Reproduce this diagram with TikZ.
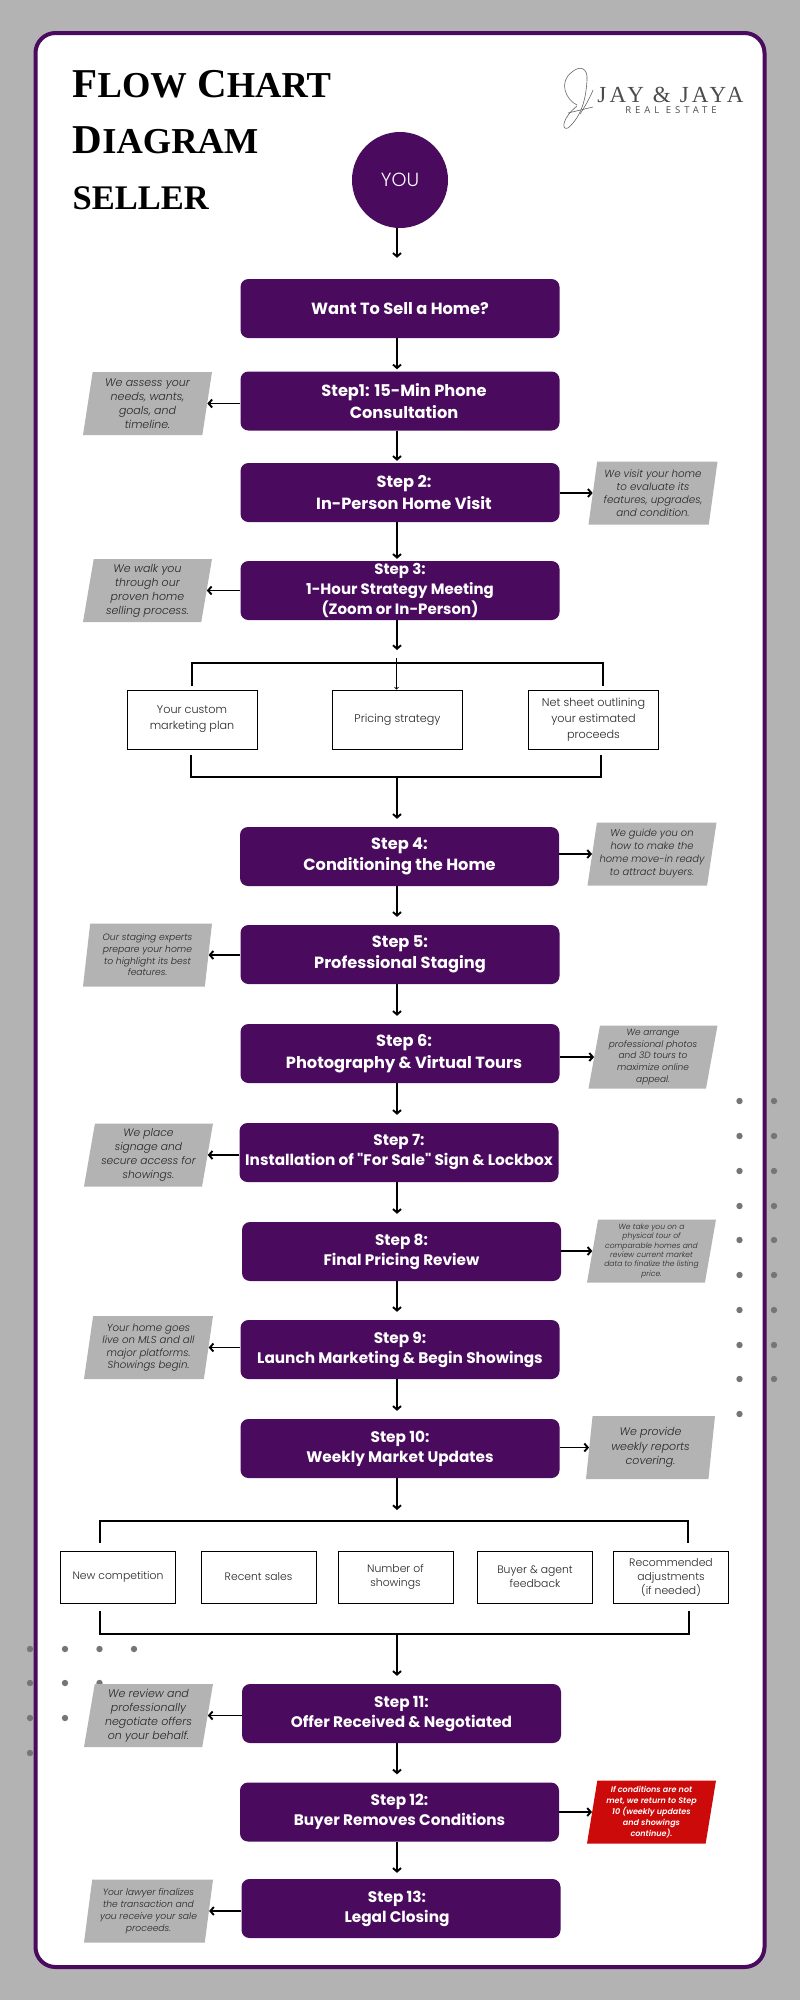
\documentclass[tikz,border=0pt]{standalone}
\usepackage{xcolor}
\usepackage{fontspec}
\usetikzlibrary{shapes.geometric,arrows.meta,positioning}

\newfontfamily\stepfont{Poppins}[UprightFont=* Bold]
\newfontfamily\lightfont{Poppins}[UprightFont=* Light,ItalicFont=* Light Italic]
\newfontfamily\notefont{Poppins}[UprightFont=* SemiBold Italic]
\newfontfamily\titlefont{Liberation Serif}[UprightFont=* Bold]
\newfontfamily\logofont{Liberation Serif}[LetterSpace=14]
\newfontfamily\tagfont{Open Sans}[LetterSpace=42]

\definecolor{plum}{HTML}{4A0A5E}
\definecolor{ash}{HTML}{B3B3B3}
\definecolor{alert}{HTML}{CC0A0A}
\definecolor{spot}{HTML}{757575}

\begin{document}
\begin{tikzpicture}[x=1pt,y=-1pt,
		arrow/.style = {line width=1.9pt,-{Straight Barb[length=3.5pt,width=8pt]}},
		far/.style = {shorten >=8pt},
		near/.style = {shorten >=2pt},
		off/.style = {shorten >=6pt}]
		\tikzset{stepbox/.style={rectangle,fill=plum,rounded corners=8pt,minimum width=319pt,minimum height=59pt,inner sep=0pt,align=center,text=white,font=\stepfont\fontsize{16.2}{21.5}\selectfont}}
		\tikzset{stepsmall/.style={stepbox,font=\stepfont\fontsize{15.3}{20}\selectfont}}
		\tikzset{note/.style={trapezium,trapezium left angle=72,trapezium right angle=108,trapezium stretches body,fill=ash,minimum width=129pt,minimum height=63pt,inner xsep=-30pt,inner ysep=-10pt,align=center,text=black!85,font=\lightfont\itshape\fontsize{11}{14}\selectfont}}
		\tikzset{whitebox/.style={rectangle,draw=black,line width=0.9pt,fill=white,inner sep=0pt,align=center,text=black!85,font=\lightfont\fontsize{11.2}{16}\selectfont}}
		\tikzset{bracket/.style={line width=2pt}}

		\useasboundingbox (0,0) rectangle (800,2000);
		\fill[ash] (0,0) rectangle (800,2000);
		\draw[plum,line width=4pt,fill=white,rounded corners=20pt] (35.5,33) rectangle (764.5,1967);

		% Dots
		\fill[spot] (739.5,1101) circle (3.2) (739.5,1136) circle (3.2) (739.5,1171) circle (3.2) (739.5,1206) circle (3.2) (739.5,1240) circle (3.2) (739.5,1275) circle (3.2) (739.5,1310) circle (3.2) (739.5,1345) circle (3.2) (739.5,1379) circle (3.2) (739.5,1414) circle (3.2);
		\fill[spot] (774,1101) circle (3.2) (774,1136) circle (3.2) (774,1171) circle (3.2) (774,1206) circle (3.2) (774,1240) circle (3.2) (774,1275) circle (3.2) (774,1310) circle (3.2) (774,1345) circle (3.2) (774,1379) circle (3.2);
		\fill[spot] (30,1649) circle (3.2) (65,1649) circle (3.2) (99.5,1649) circle (3.2) (134,1649) circle (3.2) (30,1683) circle (3.2) (65,1683) circle (3.2) (99.5,1683) circle (3.2) (30,1718) circle (3.2) (65,1718) circle (3.2) (30,1753) circle (3.2);

		% Title
		\node[anchor=north west,inner sep=0pt,align=left,font=\titlefont\fontsize{41}{56}\selectfont] (title) at (72.5,70) {F{\fontsize{36.5}{56}\selectfont LOW} C{\fontsize{36.5}{56}\selectfont HART}\\D{\fontsize{36.5}{56}\selectfont IAGRAM}\\{\fontsize{34.5}{56}\selectfont SELLER}};

		% Logo
		\draw[black!60,line width=0.6pt] (577,105) .. controls (566,100) and (558,82) .. (572,72) .. controls (580,65) and (588,68) .. (587,80) .. controls (586,98) and (582,116) .. (568,128) .. controls (561,131) and (562,118) .. (577,106);
		\draw[black!60,line width=0.6pt] (568,113) -- (593,107);
		\draw[black!60,line width=0.6pt] (593,90) .. controls (590,98) and (584,108) .. (580,114);
		\node[inner sep=0pt,text=black!70,font=\logofont\fontsize{23}{23}\selectfont] (logoname) at (670.5,95) {JAY \& JAYA};
		\node[inner sep=0pt,text=black!70,font=\tagfont\fontsize{9.5}{10}\selectfont] (logotag) at (671,110.5) {REAL ESTATE};

		% Start
		\node[circle,fill=plum,minimum size=96pt,inner sep=0pt,text=white,font=\lightfont\fontsize{19}{19}\selectfont] (you) at (400,180) {YOU};

		% Steps
		\node[stepbox] (want) at (400,308.5) {\raisebox{-3pt}{Want To Sell a Home?}};
		\node[stepbox] (step1) at (400,401) {\hspace*{8pt}Step1: 15-Min Phone\\\hspace*{8pt}Consultation};
		\node[stepbox] (step2) at (400,492.5) {\hspace*{8pt}Step 2:\\\hspace*{8pt}In-Person Home Visit};
		\node[stepbox,font=\stepfont\fontsize{15}{20}\selectfont] (step3) at (400,590.5) {Step 3:\\1-Hour Strategy Meeting\\(Zoom or In-Person)};
		\node[stepbox] (step4) at (399.5,856.5) {Step 4:\\Conditioning the Home};
		\node[stepbox] (step5) at (400,954.5) {Step 5:\\Professional Staging};
		\node[stepbox] (step6) at (400,1053.5) {\hspace*{8pt}Step 6:\\\hspace*{8pt}Photography \& Virtual Tours};
		\node[stepsmall] (step7) at (399,1152.5) {Step 7:\\Installation of "For Sale" Sign \& Lockbox};
		\node[stepsmall] (step8) at (401.5,1251.5) {Step 8:\\Final Pricing Review};
		\node[stepsmall] (step9) at (400,1349.5) {Step 9:\\Launch Marketing \& Begin Showings};
		\node[stepsmall] (step10) at (400,1448.5) {Step 10:\\Weekly Market Updates};
		\node[stepsmall] (step11) at (401.5,1713.5) {Step 11:\\Offer Received \& Negotiated};
		\node[stepsmall] (step12) at (399.5,1812) {Step 12:\\Buyer Removes Conditions};
		\node[stepsmall] (step13) at (401,1908.5) {\hspace*{-8pt}Step 13:\\\hspace*{-8pt}Legal Closing};

		% Notes
		\node[note] (note1) at (147.5,403.5) {We assess your\\needs, wants,\\goals, and\\timeline.};
		\node[note,font=\lightfont\itshape\fontsize{10.3}{13}\selectfont] (note2) at (653,493) {We visit your home\\to evaluate its\\features, upgrades,\\and condition.};
		\node[note] (note3) at (147.5,590.5) {We walk you\\through our\\proven home\\selling process.};
		\node[note,font=\lightfont\itshape\fontsize{9.9}{13}\selectfont] (note4) at (652,854) {We guide you on\\how to make the\\home move-in ready\\to attract buyers.};
		\node[note,font=\lightfont\itshape\fontsize{9.2}{11.7}\selectfont] (note5) at (147.5,955) {Our staging experts\\prepare your home\\to highlight its best\\features.};
		\node[note,font=\lightfont\itshape\fontsize{9}{11.7}\selectfont] (note6) at (653,1057) {We arrange\\professional photos\\and 3D tours to\\maximize online\\appeal.};
		\node[note,font=\lightfont\itshape\fontsize{10.7}{14.3}\selectfont] (note7) at (148.5,1155) {We place\\signage and\\secure access for\\showings.};
		\node[note,font=\lightfont\itshape\fontsize{7.6}{9.3}\selectfont] (note8) at (651.5,1251) {We take you on a\\physical tour of\\comparable homes and\\review current market\\data to finalize the listing\\price.};
		\node[note,font=\lightfont\itshape\fontsize{10.2}{12.6}\selectfont] (note9) at (148.5,1347.5) {Your home goes\\live on MLS and all\\major platforms.\\Showings begin.};
		\node[note,font=\lightfont\itshape\fontsize{11}{14.5}\selectfont] (note10) at (650.5,1447.5) {We provide\\weekly reports\\covering.};
		\node[note] (note11) at (148.5,1715.5) {We review and\\professionally\\negotiate offers\\on your behalf.};
		\node[note,fill=alert,text=white,font=\notefont\fontsize{8}{11}\selectfont] (note12) at (651.5,1812) {If conditions are not\\met, we return to Step\\10 (weekly updates\\and showings\\continue).};
		\node[note,font=\lightfont\itshape\fontsize{9.2}{12}\selectfont] (note13) at (148.5,1911) {Your lawyer finalizes\\the transaction and\\you receive your sale\\proceeds.};

		% Strategy items
		\node[whitebox,minimum width=130pt,minimum height=59pt] (plan) at (192,719.5) {Your custom\\marketing plan};
		\node[whitebox,minimum width=130pt,minimum height=59pt] (pricing) at (397.5,719.5) {Pricing strategy};
		\node[whitebox,minimum width=130pt,minimum height=59pt] (netsheet) at (593.5,719.5) {Net sheet outlining\\your estimated\\proceeds};

		% Update items
		\node[whitebox,minimum width=115pt,minimum height=52pt,font=\lightfont\fontsize{10.8}{14}\selectfont] (compet) at (118,1577) {New competition};
		\node[whitebox,minimum width=115pt,minimum height=52pt,font=\lightfont\fontsize{10.8}{14}\selectfont] (sales) at (258.5,1577) {Recent sales};
		\node[whitebox,minimum width=115pt,minimum height=52pt,font=\lightfont\fontsize{10.8}{14}\selectfont] (showings) at (395.5,1577) {Number of\\showings};
		\node[whitebox,minimum width=115pt,minimum height=52pt,font=\lightfont\fontsize{10.8}{14}\selectfont] (feedback) at (535,1577) {Buyer \& agent\\feedback};
		\node[whitebox,minimum width=115pt,minimum height=52pt,font=\lightfont\fontsize{10.8}{14}\selectfont] (adjust) at (671,1577) {Recommended\\adjustments\\(if needed)};

		% Brackets
		\coordinate (axis) at (397,0);
		\coordinate (hubA) at (397,663);
		\coordinate (planin) at (192,686);
		\coordinate (netin) at (603,686);
		\coordinate (planout) at (190.5,755);
		\coordinate (netout) at (601,755);
		\coordinate (hubB) at (397,777);
		\coordinate (hubC) at (397,1521);
		\coordinate (competin) at (100,1543);
		\coordinate (adjustin) at (688,1543);
		\coordinate (competout) at (100,1611);
		\coordinate (adjustout) at (689,1611);
		\coordinate (hubD) at (397,1634);
		\coordinate (strategytop) at (396.5,658);

		\draw[bracket] (planin) |- (hubA) -| (netin);
		\draw[bracket] (planout) |- (hubB) -| (netout);
		\draw[bracket] (competin) |- (hubC) -| (adjustin);
		\draw[bracket] (competout) |- (hubD) -| (adjustout);

		% Arrows
		\draw[arrow,shorten >=21pt] (you.south -| axis) -- (want.north -| axis);
		\draw[arrow,near] (want.south -| axis) -- (step1.north -| axis);
		\draw[arrow,near] (step1.south -| axis) -- (step2.north -| axis);
		\draw[arrow,near] (step2.south -| axis) -- (step3.north -| axis);
		\draw[arrow,shorten >=13pt] (step3.south -| axis) -- (hubA);
		\draw[line width=0.7pt,-{Straight Barb[length=2pt,width=4pt]}] (strategytop) -- (pricing.north -| strategytop);
		\draw[arrow,far] (hubB) -- (step4.north -| axis);
		\draw[arrow,far] (step4.south -| axis) -- (step5.north -| axis);
		\draw[arrow,far] (step5.south -| axis) -- (step6.north -| axis);
		\draw[arrow,far] (step6.south -| axis) -- (step7.north -| axis);
		\draw[arrow,far] (step7.south -| axis) -- (step8.north -| axis);
		\draw[arrow,far] (step8.south -| axis) -- (step9.north -| axis);
		\draw[arrow,far] (step9.south -| axis) -- (step10.north -| axis);
		\draw[arrow,shorten >=11pt] (step10.south -| axis) -- (hubC);
		\draw[arrow,far] (hubD) -- (step11.north -| axis);
		\draw[arrow,far] (step11.south -| axis) -- (step12.north -| axis);
		\draw[arrow,off] (step12.south -| axis) -- (step13.north -| axis);

		\draw[arrow] (note1.east -| step1.west) -- (note1.east);
		\draw[arrow] (note2.west -| step2.east) -- (note2.west);
		\draw[arrow] (note3.east -| step3.west) -- (note3.east);
		\draw[arrow] (note4.west -| step4.east) -- (note4.west);
		\draw[arrow] (note5.east -| step5.west) -- (note5.east);
		\draw[arrow] (note6.west -| step6.east) -- (note6.west);
		\draw[arrow] (note7.east -| step7.west) -- (note7.east);
		\draw[arrow] (note8.west -| step8.east) -- (note8.west);
		\draw[arrow] (note9.east -| step9.west) -- (note9.east);
		\draw[arrow] (note10.west -| step10.east) -- (note10.west);
		\draw[arrow] (note11.east -| step11.west) -- (note11.east);
		\draw[arrow] (note12.west -| step12.east) -- (note12.west);
		\draw[arrow] (note13.east -| step13.west) -- (note13.east);
	\end{tikzpicture}
\end{document}
